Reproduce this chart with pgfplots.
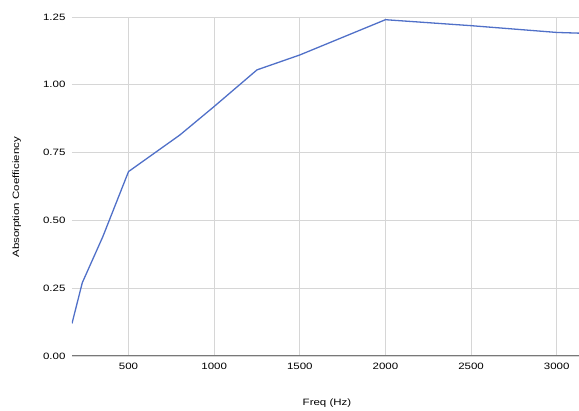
\documentclass[border=0pt]{standalone}
\usepackage{fontspec}
\setmainfont{Liberation Sans}[FakeStretch=1.25]
\usepackage{pgfplots}
\pgfplotsset{compat=1.18}
\definecolor{lineblue}{RGB}{80,112,200}
\definecolor{gridgray}{RGB}{214,214,214}
\definecolor{basegray}{RGB}{120,120,120}
\begin{document}
\begin{tikzpicture}
\useasboundingbox (0pt,0pt) rectangle (579pt,411pt);
\begin{axis}[
  at={(72pt,55pt)}, anchor=south west,
  scale only axis, width=507pt, height=339pt,
  xmin=170, xmax=3130, ymin=0, ymax=1.25,
  xtick={500,1000,...,3000},
  ytick={0,0.25,...,1.25},
  axis line style={draw=none},
  tick style={draw=none},
  grid=major,
  major grid style={gridgray, line width=0.8pt},
  font=\fontsize{9.2}{10}\selectfont,
  /pgf/number format/assume math mode=true,
  yticklabel style={/pgf/number format/fixed, /pgf/number format/fixed zerofill,
    /pgf/number format/precision=2, xshift=-3pt},
  xticklabel style={/pgf/number format/set thousands separator={}, yshift=-4pt},
  xlabel={Freq (Hz)},
  ylabel={Absorption Coefficiency},
  xlabel style={at={(axis description cs:0.503,-0.139)}, anchor=center},
  ylabel style={at={(axis description cs:-0.109,0.468)}, anchor=center},
  clip=true,
]
\addplot[basegray, line width=1.8pt, forget plot] coordinates {(170,0) (3130,0)};
\addplot[lineblue, line width=1.3pt] coordinates {
  (170,0.12) (230,0.27) (350,0.44) (500,0.68) (800,0.815) (1000,0.92)
  (1250,1.055) (1500,1.11) (2000,1.24) (2500,1.218) (3000,1.193) (3150,1.19)
};
\end{axis}
\end{tikzpicture}
\end{document}
